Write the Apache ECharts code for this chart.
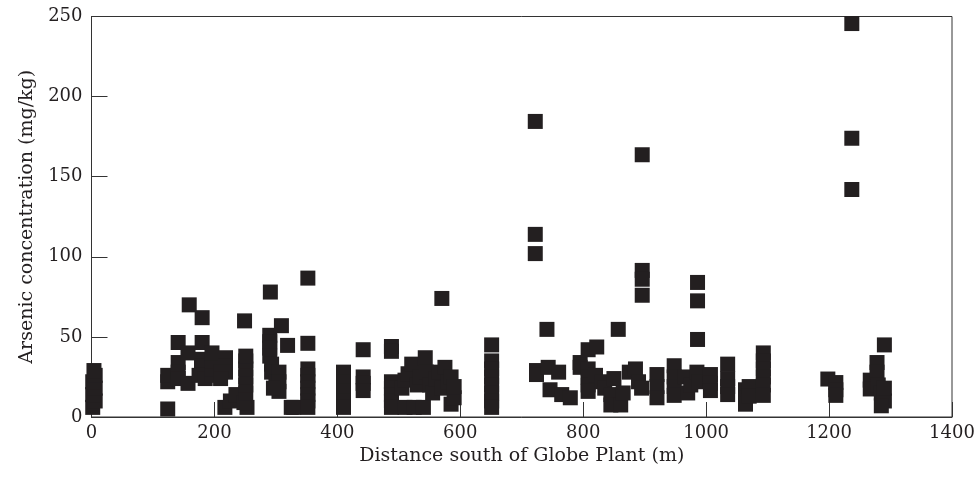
<!DOCTYPE html>
<html>
<head>
<meta charset="utf-8">
<script src="https://cdn.jsdelivr.net/npm/echarts@6/dist/echarts.min.js"></script>
<style>
html,body{margin:0;padding:0;background:#fff;}
#chart{width:978px;height:482px;}
</style>
</head>
<body>
<div id="chart"></div>
<script>
// Distance south of Globe Plant (m) and arsenic concentration (mg/kg), paired by index
const distance = [
  2,6,2,6,2,6,4,
  124,124,124,141,141,141,141,159,157,157,180,180,179,179,175,185,196,196,196,196,210,218,218,218,210,
  217,226,235,253,248,
  251,251,251,251,251,251,249,
  291,290,290,290,290,293,293,300,305,305,305,296,
  309,319,325,329,
  352,352,352,352,352,352,352,352,352,
  410,410,410,410,410,
  442,442,442,442,
  488,488,488,488,488,488,488,
  510,525,540,505,510,515,521,530,535,543,545,550,555,560,565,575,570,580,585,590,585,590,
  570,
  651,651,651,651,651,651,651,651,
  722,722,722,724,724,743,741,760,746,765,779,795,795,808,822,808,808,808,808,
  820,830,835,845,845,861,857,850,865,875,885,890,895,
  896,896,896,896,
  920,920,920,948,948,948,948,965,970,975,985,988,
  986,986,986,1007,1007,1007,
  1035,1035,1035,1035,1064,1064,1064,1070,1070,
  1093,1093,1093,1093,1093,1093,
  1198,1211,1211,1211,
  1237,1237,1237,
  1267,1267,1278,1278,1290,1280,1285,1290,1285,1290
];
const arsenic = [
  6,10,14,18,22,26,29,
  5,22,26,46.5,34,28,24,70,40,21,62,46.5,36,32,26,24,26,30,35,40,28,37,32,28,24,
  6,10,14,6,9,
  15,20,25,30,35,38,60,
  78,51,47,43,38,33,28,22,28,22,16,18,
  57,44.7,6,6,
  86.7,46,30,26,22,18,14,10,6,
  28,22,16,10,6,
  42,25,21,16.5,
  44,41,22,18,14,10,6,
  6,6,6,18,23,27,33,20,25,37,28,20,15,24,28,31,18,22,8,12,25,19,
  74,
  45,35,30,25,20,15,10,6,
  184.5,114,102,29,26.5,31,54.7,28,17,14,12,34,31,42,43.7,30,25,20,16,
  26,22,18,14,7.5,7.5,54.7,24,15,28,30,22,18,
  163.7,91.5,86,76,
  26.5,19,12,32,25,19,13.5,25,15,20,28,22,
  84,72.5,48.4,26.5,21,16.5,
  33,24,19,14,17,12,8,19,13,
  40,35,30,25,20,13.5,
  23.7,21.5,17,13.5,
  245.6,174,142,
  23,17.5,34,28,45,20,15,10,7,18
];
const xTicks = {min: 0, max: 1400, interval: 200};
const yTicks = {min: 0, max: 250, interval: 50};

const points = distance.map((d, i) => [d, arsenic[i]]);

const chart = echarts.init(document.getElementById('chart'), null, {renderer: 'canvas'});
const font = '"DejaVu Serif", "Liberation Serif", serif';
const axisColor = '#333';
const textColor = '#231f20';
chart.setOption({
  animation: false,
  backgroundColor: '#fff',
  grid: {left: 91.5, right: 26, top: 16.5, bottom: 65, show: true, borderColor: axisColor, borderWidth: 1, backgroundColor: 'transparent'},
  xAxis: {
    type: 'value', min: xTicks.min, max: xTicks.max, interval: xTicks.interval,
    name: 'Distance south of Globe Plant (m)', nameLocation: 'middle', nameGap: 22,
    nameTextStyle: {fontFamily: font, fontSize: 19, color: textColor},
    axisLine: {show: true, lineStyle: {color: axisColor, width: 1}},
    axisTick: {show: true, inside: true, length: 15, lineStyle: {color: axisColor}},
    axisLabel: {fontFamily: font, fontSize: 18, color: textColor, margin: 7, formatter: v => String(v)},
    splitLine: {show: false}
  },
  yAxis: {
    type: 'value', min: yTicks.min, max: yTicks.max, interval: yTicks.interval,
    name: 'Arsenic concentration (mg/kg)', nameLocation: 'middle', nameGap: 55,
    nameTextStyle: {fontFamily: font, fontSize: 19, color: textColor},
    axisLine: {show: true, lineStyle: {color: axisColor, width: 1}},
    axisTick: {show: true, inside: true, length: 16, lineStyle: {color: axisColor}},
    axisLabel: {fontFamily: font, fontSize: 18, color: textColor, margin: 9, formatter: v => String(v)},
    splitLine: {show: false}
  },
  series: [{
    type: 'scatter',
    data: points,
    symbol: 'rect',
    symbolSize: 15,
    itemStyle: {color: '#231f20', opacity: 1}
  }]
});
</script>
</body>
</html>
